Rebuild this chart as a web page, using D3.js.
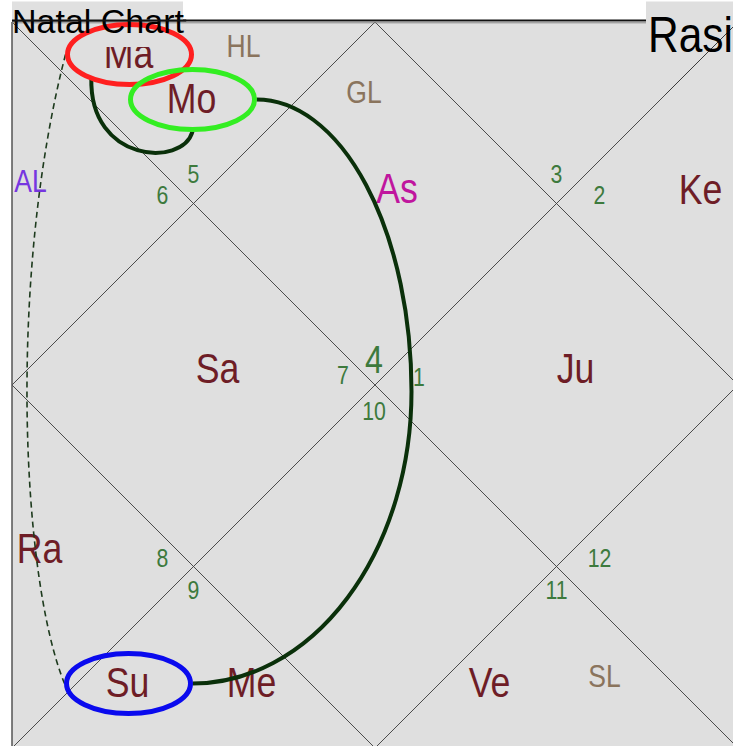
<!DOCTYPE html>
<meta charset="utf-8">
<style>
  body { margin: 0; background: #fff; }
  svg { display: block; font-family: "Liberation Sans", Arial, sans-serif; }
</style>
<svg></svg>
<script src="https://cdnjs.cloudflare.com/ajax/libs/d3/7.8.5/d3.min.js"></script>
<script>
//
// CHART DATA
//
var title = "Natal Chart",
    chartName = "Rasi",
    ascSign = 4; // sign in house 1

var houses = d3.range(1, 13);

// bodies and the house they sit in
var planets = ["Ma", "Mo", "As", "Ke", "Sa", "Ju", "Ra", "Su", "Me", "Ve"];
var planetHouse = [2, 2, 1, 11, 4, 10, 5, 6, 6, 8];

// special lagnas
var lagnas = ["HL", "GL", "AL", "SL"];
var lagnaHouse = [2, 1, 3, 8];

// circled bodies and the lines between them
var circled = ["Ma", "Mo", "Su"];
var circleColor = ["#ff1f1f", "#33ee22", "#0a0aee"];
var links = [["Ma", "Mo"], ["Mo", "Su"], ["Ma", "Su"]];
var linkDash = [false, false, true];

//
// SVG SETUP
//
var W = 733, H = 746;
var svg = d3.select("svg").attr("width", W).attr("height", H);

// the chart square runs a little past the window on the right and bottom
var x = d3.scaleLinear().domain([0, 1]).range([12, 738]),
    y = d3.scaleLinear().domain([0, 1]).range([22, 748]);

// north indian layout: house polygons in chart units
var housePoly = {
  1: [[.5, 0], [.75, .25], [.5, .5], [.25, .25]],
  2: [[0, 0], [.5, 0], [.25, .25]],
  3: [[0, 0], [.25, .25], [0, .5]],
  4: [[0, .5], [.25, .25], [.5, .5], [.25, .75]],
  5: [[0, .5], [.25, .75], [0, 1]],
  6: [[0, 1], [.25, .75], [.5, 1]],
  7: [[.5, 1], [.25, .75], [.5, .5], [.75, .75]],
  8: [[.5, 1], [.75, .75], [1, 1]],
  9: [[1, 1], [.75, .75], [1, .5]],
  10: [[1, .5], [.75, .75], [.5, .5], [.75, .25]],
  11: [[1, .5], [.75, .25], [1, 0]],
  12: [[1, 0], [.75, .25], [.5, 0]]
};
function centroid(h) {
  var p = housePoly[h];
  return [x(d3.mean(p, d => d[0])), y(d3.mean(p, d => d[1]))];
}
// the corner of each house that points to the middle, and which way its number sits
var inner = {
  1: [[.5, .5], "up"], 4: [[.5, .5], "left"], 7: [[.5, .5], "down"], 10: [[.5, .5], "right"],
  2: [[.25, .25], "up"], 3: [[.25, .25], "left"], 5: [[.25, .75], "left"], 6: [[.25, .75], "down"],
  8: [[.75, .75], "down"], 9: [[.75, .75], "right"], 11: [[.75, .25], "right"], 12: [[.75, .25], "up"]
};
var numOffTri = {up: [0, -30], down: [0, 23], left: [-31, -9], right: [43, -9]},
    numOffDia = {up: [-1, -26], down: [-1, 26], left: [-32, -10], right: [44, -8]};

// nudge of each label from its house centre (px)
var nudge = {
  Ma: [-65, -30], Mo: [-2, 15], HL: [50, -37],
  GL: [-11, -112], As: [22, -16],
  Ke: [23, -15], AL: [-42, -23], Sa: [24, -17], Ju: [19, -17],
  Ra: [-33, -19], Su: [-66, -6], Me: [58, -6], Ve: [-67, -6], SL: [48, -12]
};

var pos = {};
planets.forEach(function(p, i) {
  var c = centroid(planetHouse[i]);
  pos[p] = [c[0] + nudge[p][0], c[1] + nudge[p][1]];
});
lagnas.forEach(function(p, i) {
  var c = centroid(lagnaHouse[i]);
  pos[p] = [c[0] + nudge[p][0], c[1] + nudge[p][1]];
});

//
// BACKGROUND AND GRID
//
svg.append("rect")
  .attr("x", x(0)).attr("y", y(0))
  .attr("width", x(1) - x(0)).attr("height", y(1) - y(0))
  .attr("fill", "#dfdfdf");

var line = d3.line().x(d => x(d[0])).y(d => y(d[1]));
var grid = svg.append("g").attr("fill", "none").attr("stroke", "#3a3a3a").attr("stroke-width", 0.9);
grid.append("path").attr("d", line([[0, 0], [1, 1]]));
grid.append("path").attr("d", line([[1, 0], [0, 1]]));
grid.append("path").attr("d", line([[.5, 0], [1, .5], [.5, 1], [0, .5], [.5, 0]]));
// frame
svg.append("path").attr("d", line([[0, 0], [0, 1]]))
  .attr("stroke", "#555").attr("stroke-width", 1.5);
svg.append("path").attr("d", line([[0, 0], [1, 0]]))
  .attr("transform", "translate(0,-1.5)")
  .attr("stroke", "#111").attr("stroke-width", 2.2);
svg.append("path").attr("d", line([[0, 0], [1, 0]]))
  .attr("transform", "translate(0,0.8)")
  .attr("stroke", "#888").attr("stroke-width", 1);

//
// HOUSE (SIGN) NUMBERS
//
svg.append("g").selectAll("text")
  .data(houses)
  .join("text")
  .attr("transform", function(h) {
    var v = inner[h][0], dir = inner[h][1];
    var off = (h === 1 || h === 4 || h === 7 || h === 10) ? numOffDia[dir] : numOffTri[dir];
    return "translate(" + (x(v[0]) + off[0]) + "," + (y(v[1]) + off[1]) + ") scale(0.85,1)";
  })
  .attr("text-anchor", "middle")
  .attr("dy", "0.36em")
  .attr("font-size", h => h === 1 ? 38 : 25)
  .attr("fill", "#3d7a3d")
  .text(h => (ascSign - 1 + h - 1) % 12 + 1);

//
// LABELS
//
svg.append("defs").append("clipPath").attr("id", "clipMa")
  .append("rect").attr("x", 0).attr("y", 47).attr("width", W).attr("height", H);

function planetColor(p) { return p === "As" ? "#c0169e" : "#6e1d26"; }
function lagnaColor(p) { return p === "AL" ? "#7636e0" : "#8a745d"; }

svg.append("g").selectAll("text")
  .data(planets)
  .join("text")
  .attr("clip-path", p => p === "Ma" ? "url(#clipMa)" : null)
  .attr("x", p => pos[p][0]).attr("y", p => pos[p][1])
  .attr("transform", p => "translate(" + pos[p][0] * 0.17 + ",0) scale(0.83,1)")
  .attr("text-anchor", "middle")
  .attr("dy", "0.36em")
  .attr("font-size", 43)
  .attr("fill", planetColor)
  .text(p => p);

svg.append("g").selectAll("text")
  .data(lagnas)
  .join("text")
  .attr("transform", p => "translate(" + pos[p][0] + "," + pos[p][1] + ") scale(0.83,1)")
  .attr("text-anchor", "middle")
  .attr("dy", "0.36em")
  .attr("font-size", 32)
  .attr("fill", lagnaColor)
  .text(p => p);

//
// LINKS BETWEEN CIRCLED BODIES
//
var rx = 62, ry = 30;
function ring(p) { return [pos[p][0] + 1, pos[p][1] + 2]; }

function linkPath(a, b, dashed) {
  var A = ring(a), B = ring(b);
  if (dashed) {
    // round the outside, left of both rings
    var s = [A[0] - rx - 2, A[1]], e = [B[0] - rx - 2, B[1]];
    return "M" + s + "C" + [s[0] - 58, s[1] + 224] + " " + [e[0] - 43, e[1] - 105] + " " + e;
  }
  if (B[1] - A[1] > 200) {
    // long sweep on the right side
    var s = [A[0] + rx + 2, A[1]], e = [B[0] + rx + 2, B[1]],
        my = (s[1] + e[1]) / 2, bx = s[0] + 155;
    return "M" + s + "A" + (bx - s[0]) + "," + (my - s[1]) + " 0 0 1 " + bx + "," + my +
           "A" + (bx - e[0]) + "," + (e[1] - my) + " 0 0 1 " + e;
  }
  // short hook below
  var ang = 128 * Math.PI / 180;
  var s = [A[0] + rx * Math.cos(ang), A[1] + ry * Math.sin(ang)], e = [B[0], B[1] + ry + 2];
  return "M" + s + "C" + [s[0] - 2, s[1] + 85] + " " + [e[0] - 10, e[1] + 36] + " " + e;
}

svg.append("g").selectAll("path")
  .data(links)
  .join("path")
  .attr("d", (d, i) => linkPath(d[0], d[1], linkDash[i]))
  .attr("fill", "none")
  .attr("stroke", (d, i) => linkDash[i] ? "#1d3a1d" : "#0a300a")
  .attr("stroke-width", (d, i) => linkDash[i] ? 1.6 : 4)
  .attr("stroke-dasharray", (d, i) => linkDash[i] ? "6,4" : null);

svg.append("g").selectAll("ellipse")
  .data(circled)
  .join("ellipse")
  .attr("cx", p => ring(p)[0]).attr("cy", p => ring(p)[1])
  .attr("rx", rx).attr("ry", ry)
  .attr("fill", "none")
  .attr("stroke", (p, i) => circleColor[i])
  .attr("stroke-width", 5);

//
// TITLES
//
svg.append("rect").attr("x", x(0)).attr("y", 1.5).attr("width", 171).attr("height", 19)
  .attr("fill", "#e0e0e0");
svg.append("text").attr("x", x(0)).attr("y", 33)
  .attr("font-size", 34).attr("fill", "#000").text(title);
svg.append("path").attr("d", line([[0, 0], [.24, 0]]))
  .attr("transform", "translate(0,-1.5)")
  .attr("stroke", "#111").attr("stroke-width", 2.2);

svg.append("rect").attr("x", 646).attr("y", 1.5).attr("width", W - 646).attr("height", 24)
  .attr("fill", "#dfdfdf");
svg.append("path").attr("d", line([[.9, .1], [1, 0]]))
  .attr("stroke", "#3a3a3a").attr("stroke-width", 0.9);
svg.append("text")
  .attr("transform", "translate(648,52) scale(0.85,1)")
  .attr("font-size", 50).attr("fill", "#000").text(chartName);
</script>
